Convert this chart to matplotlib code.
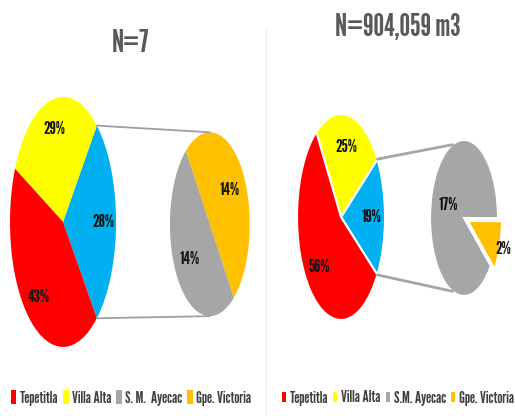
import numpy as np
import matplotlib
matplotlib.use("Agg")
import matplotlib.pyplot as plt
from matplotlib.patches import ConnectionPatch, Patch
from matplotlib.textpath import TextPath
from matplotlib.font_manager import FontProperties

BOLD_FONT = ['League Gothic', 'DejaVu Sans']
REG_FONT = ['League Gothic', 'DejaVu Sans']
plt.rcParams['font.family'] = REG_FONT

# data
sites = ['Tepetitla', 'Villa Alta', 'S. M.  Ayecac', 'Gpe. Victoria']
sites_right = ['Tepetitla', 'Villa Alta', 'S.M. Ayecac', 'Gpe. Victoria']
colors = ['#FF0000', '#FFFF00', '#A6A6A6', '#FFC000']
other_color = '#00B0F0'

left_title = 'N=7'
left_pct = [43, 29, 14, 14]
left_other = 28          # label shown on the blue "other" slice

right_title = 'N=904,059 m3'
right_pct = [56, 25, 17, 2]
right_other = 19


def size_for_cap(cap_px, family):
    # font size (pt at 100 dpi) that gives a capital letter of cap_px pixels
    fp = FontProperties(family=family)
    cap = TextPath((0, 0), 'N', size=100, prop=fp).get_extents().height / 100
    return cap_px / cap * 72 / 100


title_fs = size_for_cap(22.5, BOLD_FONT)
label_fs = size_for_cap(13.5, BOLD_FONT)
legend_fs = size_for_cap(12, REG_FONT)

fig = plt.figure(figsize=(5.15, 4.16), dpi=100)
fig.patch.set_facecolor('white')


def pie_of_pie(main_box, sec_box, pct, other, sec_start, main_pd, sec_pd,
               edge, explode_small):
    ax1 = fig.add_axes(main_box)
    ax2 = fig.add_axes(sec_box)
    lw = 1.5 if edge != 'none' else 0

    # main pie: "other" slice centred at 3 o'clock
    vals = [other, pct[1], pct[0]]
    half = 180 * other / 100.0
    w1, _ = ax1.pie(vals, colors=[other_color, colors[1], colors[0]],
                    startangle=-half, counterclock=True,
                    wedgeprops=dict(edgecolor=edge, linewidth=lw))
    for w, v in zip(w1, vals):
        ang = np.deg2rad((w.theta1 + w.theta2) / 2)
        ax1.text(main_pd * np.cos(ang), main_pd * np.sin(ang), f'{v}%',
                 ha='center', va='center', fontsize=label_fs, color='#111111',
                 family=BOLD_FONT)

    # secondary pie
    svals = [pct[3], pct[2]]
    w2, _ = ax2.pie(svals, colors=[colors[3], colors[2]],
                    startangle=sec_start, counterclock=True,
                    explode=[explode_small, 0],
                    wedgeprops=dict(edgecolor=edge, linewidth=lw))
    for i, (w, v) in enumerate(zip(w2, svals)):
        w.set_clip_on(False)
        ang = np.deg2rad((w.theta1 + w.theta2) / 2)
        d = sec_pd[i]
        ax2.text(d * np.cos(ang), d * np.sin(ang), f'{v}%',
                 ha='center', va='center', fontsize=label_fs, color='#111111',
                 family=BOLD_FONT)

    for ax in (ax1, ax2):
        ax.set_aspect('auto')
        ax.set_xlim(-1, 1)
        ax.set_ylim(-1, 1)
        ax.axis('off')

    return ax1, ax2, np.deg2rad(half)


# left chart
a1, a2, t = pie_of_pie([0.0194, 0.166, 0.206, 0.601], [0.330, 0.240, 0.155, 0.442],
                       left_pct, left_other, -53, 0.76, [0.62, 0.62], 'none', 0)
for sgn in (1, -1):
    con = ConnectionPatch(xyA=(np.cos(t), sgn * np.sin(t)), coordsA=a1.transData,
                          xyB=(0, sgn * 1.0), coordsB=a2.transData,
                          color='#A0A0A0', lw=1.3)
    fig.add_artist(con)

# right chart
b1, b2, t = pie_of_pie([0.5767, 0.2308, 0.1709, 0.4952], [0.835, 0.2885, 0.132, 0.375],
                       right_pct, right_other, -38, 0.69, [1.22, 0.5], 'white', 0.12)
tb = np.deg2rad(110)
for sgn in (1, -1):
    con = ConnectionPatch(xyA=(np.cos(t), sgn * np.sin(t)), coordsA=b1.transData,
                          xyB=(np.cos(tb), sgn * np.sin(tb)), coordsB=b2.transData,
                          color='#A6A6A6', lw=2.0)
    fig.add_artist(con)

# titles
fig.text(130 / 515, 1 - 43 / 416, left_title, ha='center', va='center',
         fontsize=title_fs, color='#595959', family=BOLD_FONT)
fig.text(398 / 515, 1 - 28 / 416, right_title, ha='center', va='center',
         fontsize=title_fs, color='#595959', family=BOLD_FONT)

# faint panel divider
fig.add_artist(plt.Line2D([266 / 515, 266 / 515], [0.0, 0.93], color='#F0F0F0', lw=1))

# legends
h_left = [Patch(facecolor=c, edgecolor='none') for c in colors]
fig.legend(h_left, sites, loc='center', bbox_to_anchor=(131 / 515, 1 - 398 / 416),
           ncol=4, frameon=False, fontsize=legend_fs, handlelength=0.35, handleheight=0.9,
           handletextpad=0.2, columnspacing=0.3, borderaxespad=0, labelcolor='#404040')
h_right = [Patch(facecolor=c, edgecolor='none') for c in colors]
fig.legend(h_right, sites_right, loc='center', bbox_to_anchor=(398 / 515, 1 - 398 / 416),
           ncol=4, frameon=False, fontsize=legend_fs, handlelength=0.25, handleheight=0.6,
           handletextpad=0.25, columnspacing=0.3, borderaxespad=0, labelcolor='#404040')

fig.savefig('out.png', dpi=100)
